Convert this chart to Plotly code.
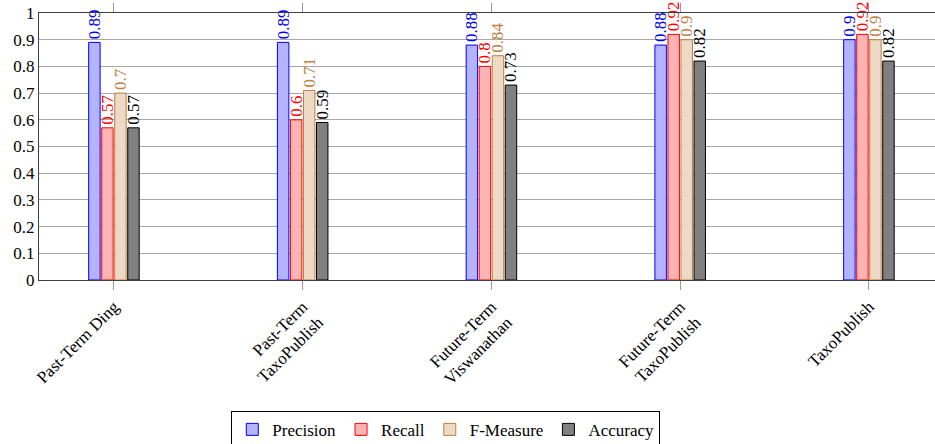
import plotly.graph_objects as go

categories = ["Past-Term Ding", "Past-Term<br>TaxoPublish", "Future-Term<br>Viswanathan",
              "Future-Term<br>TaxoPublish", "TaxoPublish"]
precision = [0.89, 0.89, 0.88, 0.88, 0.9]
recall = [0.57, 0.6, 0.8, 0.92, 0.92]
f_measure = [0.7, 0.71, 0.84, 0.9, 0.9]
accuracy = [0.57, 0.59, 0.73, 0.82, 0.82]
y_ticks = [0, 0.1, 0.2, 0.3, 0.4, 0.5, 0.6, 0.7, 0.8, 0.9, 1]

series = [
    ("Precision", precision, "#b3b3ff", "#0000ff"),
    ("Recall", recall, "#ffb3b3", "#ff0000"),
    ("F-Measure", f_measure, "#ecd9c6", "#bf8040"),
    ("Accuracy", accuracy, "#808080", "#000000"),
]

FONT = "Times New Roman, Liberation Serif, serif"
x_pos = list(range(len(categories)))

fig = go.Figure()
for name, vals, fill, edge in series:
    fig.add_trace(go.Bar(
        name=name, x=x_pos, y=vals,
        marker=dict(color=fill, line=dict(color=edge, width=1)),
        text=[f"{v:g}" for v in vals],
        textposition="outside", textangle=-90,
        outsidetextfont=dict(family=FONT, size=17, color=edge),
        constraintext="none", cliponaxis=False,
    ))

fig.update_layout(
    width=935, height=444,
    margin=dict(l=39, r=0, t=13, b=164, autoexpand=False),
    plot_bgcolor="white", paper_bgcolor="white",
    barmode="group", bargap=0.724, bargroupgap=0.12,
    font=dict(family=FONT, size=17, color="black"),
    showlegend=True,
    legend=dict(orientation="h", x=0.454, xanchor="center", y=-0.49, yanchor="top",
                bordercolor="black", borderwidth=1, font=dict(family=FONT, size=17),
                itemwidth=30, tracegroupgap=0),
    xaxis=dict(range=[-0.397, 4.35], tickmode="array", tickvals=x_pos, ticktext=categories,
               tickangle=-45, ticks="outside", ticklen=9, tickcolor="#999999",
               showline=True, linecolor="#404040", linewidth=1.3, mirror="ticks",
               showgrid=False, zeroline=False, automargin=False),
    yaxis=dict(range=[0, 1], tickmode="array", tickvals=y_ticks,
               ticktext=[f"{v:g}" for v in y_ticks], ticks="",
               showline=True, linecolor="#404040", linewidth=1.3, automargin=False,
               showgrid=True, gridcolor="#a8a8a8", gridwidth=1, zeroline=False),
)

fig.write_html("out.html")
